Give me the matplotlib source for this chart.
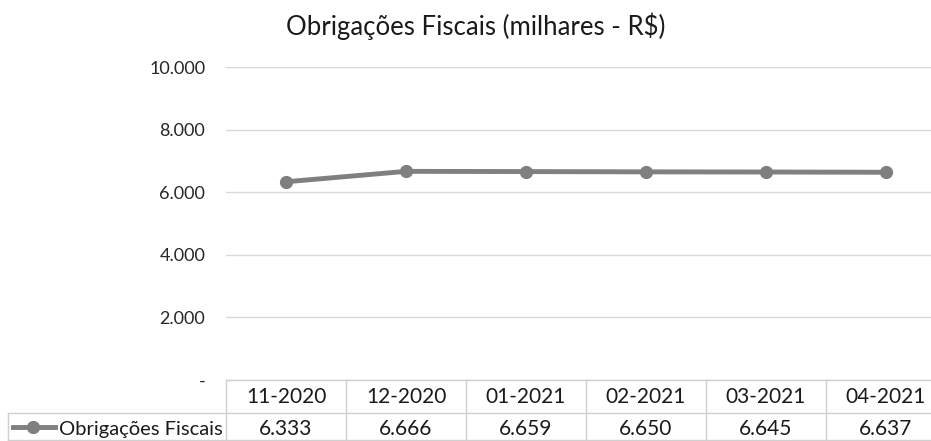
import matplotlib.pyplot as plt
from matplotlib.lines import Line2D
from matplotlib.ticker import FuncFormatter

plt.rcParams['font.family'] = ['Lato', 'DejaVu Sans']

meses = ['11-2020', '12-2020', '01-2021', '02-2021', '03-2021', '04-2021']
valores = [6333, 6666, 6659, 6650, 6645, 6637]
serie = 'Obrigações Fiscais'
titulo = 'Obrigações Fiscais (milhares - R$)'

W, H = 931, 441
fig = plt.figure(figsize=(W / 100, H / 100), dpi=100)

# plot area in pixels (the original chart is cut off on the right)
col_w = 120
px_left, px_top, px_bottom = 226, 67, 380
px_right = px_left + col_w * len(meses)
ax = fig.add_axes([px_left / W, 1 - px_bottom / H,
                   (px_right - px_left) / W, (px_bottom - px_top) / H])

x = list(range(len(meses)))
cor = '#7f7f7f'
ax.plot(x, valores, color=cor, lw=3.5, marker='o', ms=8.5, solid_capstyle='round', zorder=3)

ax.set_xlim(-0.5, len(meses) - 0.5)
ax.set_ylim(0, 10000)
ax.set_yticks(range(0, 10001, 2000))
ax.yaxis.set_major_formatter(FuncFormatter(
    lambda v, p: '-' if v == 0 else f'{int(v):,}'.replace(',', '.')))
ax.grid(axis='y', color='#d9d9d9', lw=1)
ax.set_axisbelow(True)
for s in ax.spines.values():
    s.set_visible(False)
ax.tick_params(axis='y', length=0, pad=15, labelsize=13, labelcolor='#262626')
ax.set_xticks([])

fig.text(0.511, 1 - 26 / H, titulo, ha='center', va='center', fontsize=18.5, color='#1a1a1a')

# data table below the plot
cinza = '#d0d0d0'
y_top, y_mid, y_bot = px_bottom, 413, 440
tab_left = 8

def fx(p):
    return p / W

def fy(p):
    return 1 - p / H

def linha(x0, x1, y0, y1):
    fig.add_artist(Line2D([fx(x0), fx(x1)], [fy(y0), fy(y1)], color=cinza, lw=1))

linha(px_left, px_right, y_top, y_top)
linha(tab_left, px_right, y_mid, y_mid)
linha(tab_left, px_right, y_bot, y_bot)
linha(tab_left, tab_left, y_mid, y_bot)
for i in range(len(meses) + 1):
    xc = px_left + i * col_w
    linha(xc, xc, y_top, y_bot)

for i, (m, v) in enumerate(zip(meses, valores)):
    cx = px_left + (i + 0.5) * col_w
    fig.text(fx(cx), fy(397), m, ha='center', va='center',
             fontsize=15, color='#1a1a1a')
    fig.text(fx(cx), fy(429), f'{v:,}'.replace(',', '.'),
             ha='center', va='center', fontsize=15, color='#1a1a1a')

# legend key inside row label cell
ym = 427
fig.add_artist(Line2D([fx(13), fx(55)], [fy(ym), fy(ym)], color=cor, lw=3.5))
fig.add_artist(Line2D([fx(33)], [fy(ym)], color=cor, marker='o', ms=8.5))
fig.text(fx(59), fy(429), serie, ha='left', va='center', fontsize=14.5, color='#1a1a1a')

fig.savefig('out.png', dpi=100)
